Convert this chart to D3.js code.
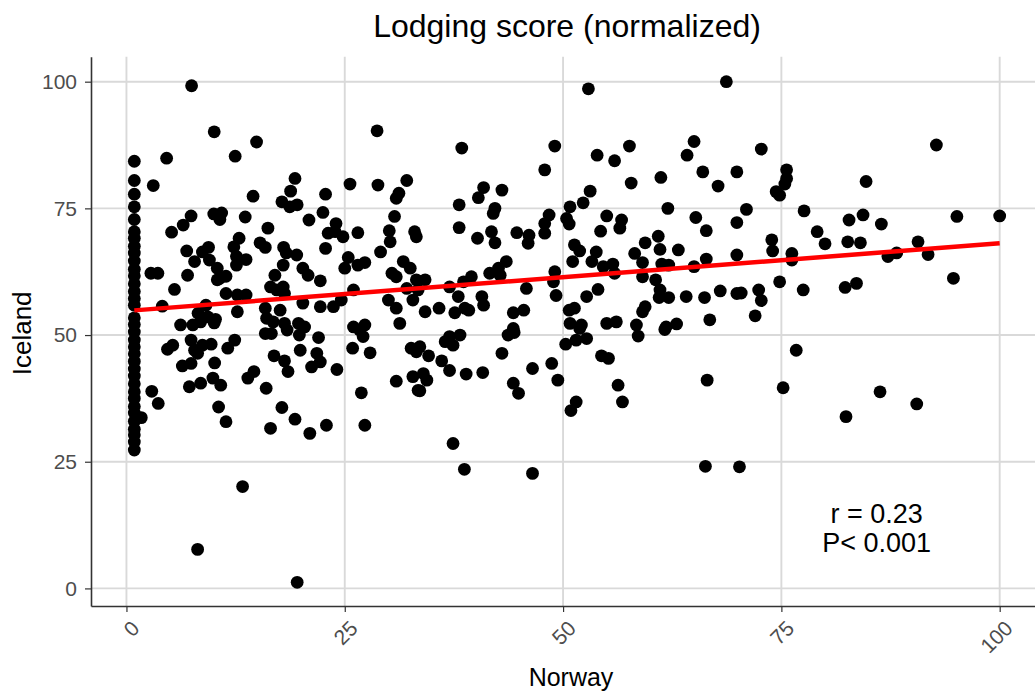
<!DOCTYPE html>
<html>
<head>
<meta charset="utf-8">
<script src="https://cdn.jsdelivr.net/npm/d3@7/dist/d3.min.js"></script>
<style>
  html, body { margin: 0; padding: 0; background: #fff; }
  svg { display: block; font-family: "Liberation Sans", Arial, Helvetica, sans-serif; }
</style>
</head>
<body>
<svg id="chart" width="1035" height="694"></svg>
<script>
// Normalized lodging scores per line: Norway (x) vs Iceland (y)
const norway = [
  0.9,0.9,0.9,0.9,0.9,0.9,0.9,0.9,0.9,0.9,0.9,0.9,0.9,0.9,0.9,0.9,0.9,0.9,
  0.9,0.9,0.9,0.9,0.9,0.9,0.9,0.9,0.9,0.9,0.9,0.9,0.9,0.9,0.9,0.9,0.9,
  7.46,10.05,14.9,4.6,12.45,3.07,14.5,7.4,6.5,5.17,10.0,10.9,10.7,13.6,12.9,12.3,15.3,6.9,8.7,9.4,
  7.8,9.5,12.6,13.7,12.6,10.4,10.7,11.4,10.4,2.8,3.6,7.0,5.5,11.4,12.7,13.7,4.1,9.1,8.2,9.3,10.2,
  12.7,6.2,7.6,
  8.5,10.05,4.7,5.3,7.4,7.8,8.7,9.7,8.15,11.6,12.4,6.4,7.4,10.1,13.9,14.6,7.2,8.5,9.9,10.8,2.9,
  3.64,10.55,11.4,13.3,8.15,1.7,
  28.7,19.3,18.8,17.8,18.7,19.55,22.8,25.6,28.8,32.1,31.2,30.9,22.5,20.9,24.0,23.1,23.9,24.8,22.8,
  26.5,30.7,30.1,30.2,29.1,33.0,33.2,16.2,15.9,18.0,18.3,19.5,17.95,17.0,16.5,17.2,17.95,18.1,20.2,
  20.8,22.2,25.4,25.0,26.5,27.3,26.0,30.4,30.9,31.7,32.5,33.2,32.1,32.8,20.2,22.2,23.7,24.6,15.9,
  16.05,16.8,17.6,18.1,19.7,20.4,30.0,30.9,31.3,26.0,27.3,
  15.9,16.6,18.4,19.8,22.0,19.9,21.8,22.2,21.2,24.1,16.9,18.1,18.5,16.0,17.8,19.3,16.5,21.0,22.9,
  19.55,26.7,27.1,25.9,27.9,26.9,27.3,32.6,33.2,30.9,32.8,33.4,
  38.4,49.05,47.9,40.9,40.3,43.0,38.1,42.2,42.0,38.1,40.2,41.8,42.2,44.7,46.1,46.0,48.4,47.9,47.9,
  50.8,50.4,50.7,51.3,51.1,34.2,33.4,37.0,38.0,38.6,39.5,41.6,42.6,43.5,42.8,40.7,40.9,34.2,35.8,
  37.6,38.75,39.2,44.3,45.5,45.8,49.05,48.9,49.2,50.7,51.3,50.8,44.3,
  33.6,34.6,34.0,34.4,33.6,36.1,37.0,36.5,37.0,38.2,37.4,38.9,40.8,43.0,43.7,44.4,44.3,44.9,46.5,
  48.7,49.4,37.4,38.7,46.5,50.3,51.5,51.5,50.9,
  52.9,68.7,53.9,55.9,57.6,65.0,64.2,66.0,67.75,69.9,61.2,57.8,53.1,52.3,62.0,55.0,56.7,56.5,54.3,
  65.2,66.4,69.9,60.9,59.4,58.2,61.1,63.2,51.9,53.8,53.3,54.6,55.7,55.9,59.1,59.1,60.6,61.3,62.1,
  65.0,66.4,69.9,52.7,54.0,61.1,61.0,62.1,64.1,66.2,68.0,69.9,59.4,59.1,55.0,56.1,58.4,61.8,63.0,
  66.8,52.1,
  58.6,61.65,51.9,52.7,54.4,55.2,56.3,56.8,66.5,66.3,70.2,
  92.75,72.7,75.6,75.6,75.4,74.4,74.8,84.7,71.0,77.6,82.75,84.35,86.45,95.1,100.0,79.1,80.0,73.9,
  74.0,76.2,76.2,87.2,88.2,90.65,91.8,74.8,77.5,70.4,72.4,72.7,72.0,82.3,83.6,94.7,82.6,84.05,
  76.7,75.2,82.4,86.3,90.5
];
const iceland = [
  84.3,80.5,77.8,75.3,72.8,70.4,69.1,67.5,66.2,64.6,63.0,61.7,60.1,58.6,57.2,55.9,53.4,52.1,
  50.6,49.0,47.7,46.3,44.8,43.3,41.9,40.4,38.8,37.5,35.9,34.6,33.0,31.4,30.3,28.9,27.3,
  99.2,90.1,88.1,84.9,85.3,79.5,77.4,73.5,71.7,70.3,73.9,74.1,72.8,73.3,69.1,67.4,68.2,66.6,66.4,67.3,
  64.5,64.8,65.5,64.9,63.8,63.2,61.2,61.6,60.9,62.2,62.2,61.8,59.0,58.2,57.9,57.9,55.7,55.9,54.3,53.6,53.1,
  54.6,52.0,52.0,
  52.6,52.4,47.2,48.0,49.0,47.0,48.0,48.2,46.4,47.4,49.0,43.9,44.4,44.5,41.5,42.8,39.8,40.5,41.5,40.1,38.9,
  36.5,35.8,32.9,20.1,7.7,33.7,
  90.3,80.9,78.4,76.3,75.3,75.7,77.8,79.8,79.6,80.5,78.0,77.0,74.2,72.7,72.0,70.1,70.4,69.4,67.1,
  70.2,73.4,70.6,68.4,66.4,70.4,69.4,71.1,67.3,67.3,66.2,65.8,63.8,61.8,59.5,58.9,59.5,58.2,63.2,
  61.8,60.7,65.3,63.2,63.8,64.3,58.9,62.2,61.5,64.5,63.2,60.9,59.2,56.9,56.3,55.6,55.6,56.9,55.3,
  53.3,52.6,54.9,52.3,52.3,51.6,56.9,55.3,52.3,51.6,52.0,
  50.3,50.3,51.0,50.0,49.5,47.0,46.4,44.7,43.7,43.2,45.9,44.9,42.8,39.5,35.7,33.4,31.6,30.6,32.2,
  1.2,51.0,49.7,47.4,46.5,38.6,32.2,47.4,46.7,40.9,41.8,39.1,
  86.9,87.3,82.6,79.1,77.1,78.6,75.7,75.0,74.0,71.2,69.1,70.4,68.2,70.2,69.7,68.1,73.7,72.0,70.1,
  75.3,73.0,71.9,67.8,64.5,60.9,58.9,59.5,57.6,60.5,61.5,62.2,63.2,64.5,61.8,57.6,55.9,54.6,55.3,
  54.4,55.3,54.9,54.4,54.9,59.2,62.5,60.5,57.8,54.9,55.3,52.3,51.3,
  47.7,45.9,42.4,41.1,39.0,44.9,43.0,48.7,49.7,50.0,48.0,42.3,42.6,46.4,50.0,50.5,40.5,38.5,43.4,
  44.4,41.1,28.6,23.5,22.7,48.2,49.0,36.8,35.1,
  98.6,100.0,85.5,84.4,87.3,88.2,85.5,82.2,79.4,82.2,81.1,80.0,78.4,76.1,75.0,73.5,72.7,71.1,70.5,
  73.2,70.6,72.2,69.5,68.2,66.1,66.9,66.8,66.6,66.4,64.5,63.5,64.0,62.2,64.3,61.5,60.9,64.0,63.8,
  63.5,65.0,65.8,57.6,59.0,58.9,57.4,57.4,57.6,57.4,58.7,58.2,55.6,54.6,52.3,52.6,52.0,51.6,52.2,
  53.0,52.0,
  49.8,51.1,51.3,49.3,45.9,45.4,40.1,36.8,41.1,24.1,24.0,
  87.5,86.7,82.6,80.9,79.8,78.3,77.6,80.3,74.8,74.5,72.7,73.7,71.9,73.4,73.5,70.4,68.0,68.8,
  66.6,66.1,64.8,65.5,66.2,68.4,65.9,60.5,58.9,58.3,58.9,56.8,53.8,59.4,60.2,61.2,68.4,68.2,
  47.0,39.6,33.9,38.8,36.4
];

// Linear fit (Iceland ~ Norway) and correlation summary
const fitIntercept = 54.75;
const fitSlope = 0.1336;
const statLines = ["r = 0.23", "P< 0.001"];

const xTicks = [0, 25, 50, 75, 100];
const yTicks = [0, 25, 50, 75, 100];

const points = norway.map((v, i) => ({ x: v, y: iceland[i] }));

const svg = d3.select("#chart");
const panel = { left: 91, right: 1043, top: 56.7, bottom: 606 };

const x = d3.scaleLinear().domain([-4.06, 104.96]).range([panel.left, panel.right]);
const y = d3.scaleLinear().domain([-3.47, 104.93]).range([panel.bottom, panel.top]);

// grid
const grid = svg.append("g");
grid.selectAll("line.gx").data(xTicks).join("line")
  .attr("x1", d => x(d)).attr("x2", d => x(d))
  .attr("y1", panel.top).attr("y2", panel.bottom)
  .attr("stroke", "#d9d9d9").attr("stroke-width", 1.9);
grid.selectAll("line.gy").data(yTicks).join("line")
  .attr("x1", panel.left).attr("x2", panel.right)
  .attr("y1", d => y(d)).attr("y2", d => y(d))
  .attr("stroke", "#d9d9d9").attr("stroke-width", 1.9);

// points
svg.append("g").selectAll("circle").data(points).join("circle")
  .attr("cx", d => x(d.x)).attr("cy", d => y(d.y))
  .attr("r", 6.4).attr("fill", "#000");

// regression line over the observed Norway range
const [xmin, xmax] = d3.extent(norway);
svg.append("line")
  .attr("x1", x(xmin)).attr("y1", y(fitIntercept + fitSlope * xmin))
  .attr("x2", x(xmax)).attr("y2", y(fitIntercept + fitSlope * xmax))
  .attr("stroke", "#ff0000").attr("stroke-width", 4.5);

// axes
const xAxis = svg.append("g").attr("transform", `translate(0,${panel.bottom})`)
  .call(d3.axisBottom(x).tickValues(xTicks).tickSize(6).tickSizeOuter(0).tickFormat(d3.format("d")));
xAxis.select(".domain").attr("stroke", "#333").attr("stroke-width", 1.6);
xAxis.selectAll(".tick line").attr("stroke", "#333").attr("stroke-width", 1.2);
xAxis.selectAll(".tick text")
  .attr("fill", "#4d4d4d").attr("font-size", 21)
  .attr("text-anchor", "end").attr("dy", null).attr("y", null)
  .attr("dominant-baseline", "hanging")
  .attr("transform", "translate(3,13) rotate(-45)");

const yAxis = svg.append("g").attr("transform", `translate(${panel.left},0)`)
  .call(d3.axisLeft(y).tickValues(yTicks).tickSize(6).tickSizeOuter(0).tickFormat(d3.format("d")));
yAxis.select(".domain").attr("stroke", "#333").attr("stroke-width", 1.6);
yAxis.selectAll(".tick line").attr("stroke", "#333").attr("stroke-width", 1.2);
yAxis.selectAll(".tick text")
  .attr("fill", "#4d4d4d").attr("font-size", 21).attr("x", -14);

// titles
const cx = (panel.left + panel.right) / 2;
svg.append("text").attr("x", cx).attr("y", 37).attr("text-anchor", "middle")
  .attr("font-size", 32).attr("fill", "#000").text("Lodging score (normalized)");
svg.append("text").attr("x", cx + 4).attr("y", 686).attr("text-anchor", "middle")
  .attr("font-size", 25).attr("fill", "#000").text("Norway");
svg.append("text").attr("transform", `translate(31,${(panel.top + panel.bottom) / 2 + 2}) rotate(-90)`)
  .attr("text-anchor", "middle").attr("font-size", 26).attr("fill", "#000").text("Iceland");

// correlation annotation
svg.append("g").selectAll("text").data(statLines).join("text")
  .attr("x", x(85.9)).attr("y", (d, i) => 523 + i * 29)
  .attr("text-anchor", "middle").attr("font-size", 27).attr("fill", "#000")
  .text(d => d);
</script>
</body>
</html>
